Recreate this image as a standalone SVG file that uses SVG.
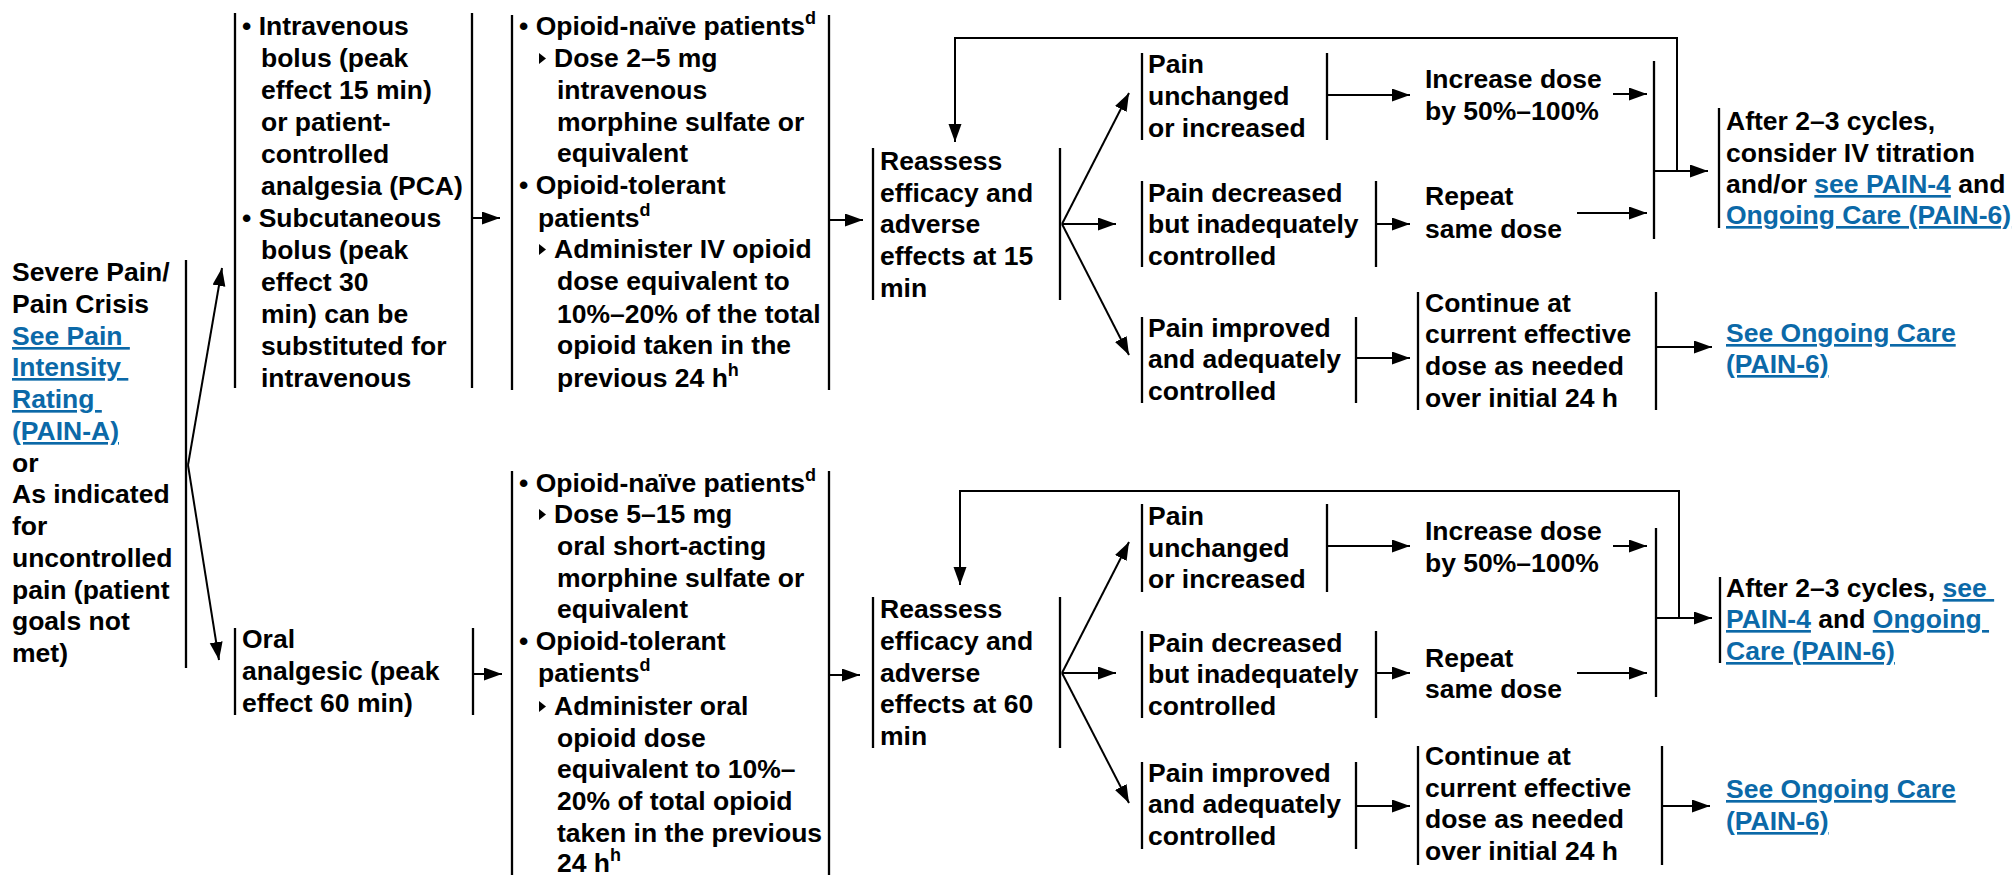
<svg xmlns="http://www.w3.org/2000/svg" width="2013" height="875" viewBox="0 0 2013 875">
<style>
text{font-family:"Liberation Sans",Arial,Helvetica,sans-serif;font-weight:bold;fill:#000;font-size:26.5px}
.lk{fill:#0b69a8;text-decoration:underline}
.sup{font-size:18px}
.bar{stroke:#000;stroke-width:2.3;fill:none}
.c{stroke:#000;stroke-width:2;fill:none;marker-end:url(#ah)}
</style>
<defs>
<marker id="ah" markerUnits="userSpaceOnUse" markerWidth="18" markerHeight="14" refX="18" refY="6.5" orient="auto">
<path d="M0,0 L18,6.5 L0,13 z" fill="#000"/>
</marker>
<polygon id="tri" points="0,-14 7,-8.5 0,-3" fill="#000"/>
</defs>

<g id="connectors">
<line class="c" x1="188" y1="465" x2="222" y2="268"/>
<line class="c" x1="188" y1="465" x2="219" y2="660"/>
<line class="c" x1="472" y1="218" x2="500" y2="218"/>
<line class="c" x1="829" y1="220" x2="863" y2="220"/>
<polyline class="c" points="1677,171 1677,38 955,38 955,142"/>
<line class="c" x1="1062" y1="224" x2="1129" y2="93"/>
<line class="c" x1="1062" y1="224" x2="1116" y2="224"/>
<line class="c" x1="1062" y1="224" x2="1129" y2="355"/>
<line class="c" x1="1327" y1="95" x2="1410" y2="95"/>
<line class="c" x1="1376" y1="224" x2="1410" y2="224"/>
<line class="c" x1="1356" y1="358" x2="1410" y2="358"/>
<line class="c" x1="1613" y1="94" x2="1647" y2="94"/>
<line class="c" x1="1577" y1="213" x2="1647" y2="213"/>
<line class="bar" x1="1654" y1="61" x2="1654" y2="239"/>
<line class="c" x1="1654" y1="171" x2="1708" y2="171"/>
<line class="c" x1="1656" y1="347" x2="1712" y2="347"/>
<line class="c" x1="473" y1="674" x2="502" y2="674"/>
<line class="c" x1="829" y1="675" x2="860" y2="675"/>
<polyline class="c" points="1679,618 1679,491 960,491 960,585"/>
<line class="c" x1="1062" y1="673" x2="1129" y2="542"/>
<line class="c" x1="1062" y1="673" x2="1116" y2="673"/>
<line class="c" x1="1062" y1="673" x2="1129" y2="803"/>
<line class="c" x1="1327" y1="546" x2="1410" y2="546"/>
<line class="c" x1="1376" y1="673" x2="1410" y2="673"/>
<line class="c" x1="1356" y1="806" x2="1410" y2="806"/>
<line class="c" x1="1613" y1="546" x2="1647" y2="546"/>
<line class="c" x1="1577" y1="673" x2="1647" y2="673"/>
<line class="bar" x1="1656" y1="528" x2="1656" y2="697"/>
<line class="c" x1="1656" y1="618" x2="1712" y2="618"/>
<line class="c" x1="1662" y1="806" x2="1710" y2="806"/>
</g>

<g id="start">
<line class="bar" x1="186" y1="260" x2="186" y2="668"/>
<text x="12" y="281">Severe Pain/</text>
<text x="12" y="313">Pain Crisis</text>
<text class="lk" x="12" y="345" xml:space="preserve">See Pain </text>
<text class="lk" x="12" y="376" xml:space="preserve">Intensity </text>
<text class="lk" x="12" y="408" xml:space="preserve">Rating </text>
<text class="lk" x="12" y="440">(PAIN-A)</text>
<text x="12" y="472">or</text>
<text x="12" y="503">As indicated</text>
<text x="12" y="535">for</text>
<text x="12" y="567">uncontrolled</text>
<text x="12" y="599">pain (patient</text>
<text x="12" y="630">goals not</text>
<text x="12" y="662">met)</text>
</g>

<g id="iv-route">
<line class="bar" x1="235" y1="13" x2="235" y2="388"/>
<line class="bar" x1="472" y1="13" x2="472" y2="388"/>
<text x="242" y="35">• Intravenous</text>
<text x="261" y="67">bolus (peak</text>
<text x="261" y="99">effect 15 min)</text>
<text x="261" y="131">or patient-</text>
<text x="261" y="163">controlled</text>
<text x="261" y="195">analgesia (PCA)</text>
<text x="242" y="227">• Subcutaneous</text>
<text x="261" y="259">bolus (peak</text>
<text x="261" y="291">effect 30</text>
<text x="261" y="323">min) can be</text>
<text x="261" y="355">substituted for</text>
<text x="261" y="387">intravenous</text>
</g>

<g id="oral-route">
<line class="bar" x1="235" y1="628" x2="235" y2="715"/>
<line class="bar" x1="473" y1="628" x2="473" y2="715"/>
<text x="242" y="648">Oral</text>
<text x="242" y="680">analgesic (peak</text>
<text x="242" y="712">effect 60 min)</text>
</g>

<g id="iv-dose">
<line class="bar" x1="512" y1="15" x2="512" y2="390"/>
<line class="bar" x1="829" y1="15" x2="829" y2="390"/>
<text x="519" y="35">• Opioid-naïve patients<tspan class="sup" dy="-11">d</tspan></text>
<use href="#tri" x="539" y="67"/>
<text x="554" y="67">Dose 2–5 mg</text>
<text x="557" y="99">intravenous</text>
<text x="557" y="131">morphine sulfate or</text>
<text x="557" y="162">equivalent</text>
<text x="519" y="194">• Opioid-tolerant</text>
<text x="538" y="227">patients<tspan class="sup" dy="-11">d</tspan></text>
<use href="#tri" x="539" y="258"/>
<text x="554" y="258">Administer IV opioid</text>
<text x="557" y="290">dose equivalent to</text>
<text x="557" y="323">10%–20% of the total</text>
<text x="557" y="354">opioid taken in the</text>
<text x="557" y="387">previous 24 h<tspan class="sup" dy="-11">h</tspan></text>
</g>

<g id="oral-dose">
<line class="bar" x1="512" y1="471" x2="512" y2="875"/>
<line class="bar" x1="829" y1="471" x2="829" y2="875"/>
<text x="519" y="492">• Opioid-naïve patients<tspan class="sup" dy="-11">d</tspan></text>
<use href="#tri" x="539" y="523"/>
<text x="554" y="523">Dose 5–15 mg</text>
<text x="557" y="555">oral short-acting</text>
<text x="557" y="587">morphine sulfate or</text>
<text x="557" y="618">equivalent</text>
<text x="519" y="650">• Opioid-tolerant</text>
<text x="538" y="682">patients<tspan class="sup" dy="-11">d</tspan></text>
<use href="#tri" x="539" y="715"/>
<text x="554" y="715">Administer oral</text>
<text x="557" y="747">opioid dose</text>
<text x="557" y="778">equivalent to 10%–</text>
<text x="557" y="810">20% of total opioid</text>
<text x="557" y="842">taken in the previous</text>
<text x="557" y="872">24 h<tspan class="sup" dy="-11">h</tspan></text>
</g>

<g id="reassess-15">
<line class="bar" x1="873" y1="148" x2="873" y2="300"/>
<line class="bar" x1="1060" y1="148" x2="1060" y2="300"/>
<text x="880" y="170">Reassess</text>
<text x="880" y="202">efficacy and</text>
<text x="880" y="233">adverse</text>
<text x="880" y="265">effects at 15</text>
<text x="880" y="297">min</text>
</g>

<g id="reassess-60">
<line class="bar" x1="873" y1="597" x2="873" y2="748"/>
<line class="bar" x1="1060" y1="597" x2="1060" y2="748"/>
<text x="880" y="618">Reassess</text>
<text x="880" y="650">efficacy and</text>
<text x="880" y="682">adverse</text>
<text x="880" y="713">effects at 60</text>
<text x="880" y="745">min</text>
</g>

<g id="unchanged-1">
<line class="bar" x1="1142" y1="53" x2="1142" y2="140"/>
<line class="bar" x1="1327" y1="53" x2="1327" y2="140"/>
<text x="1148" y="73">Pain</text>
<text x="1148" y="105">unchanged</text>
<text x="1148" y="137">or increased</text>
</g>
<g id="decreased-1">
<line class="bar" x1="1142" y1="181" x2="1142" y2="267"/>
<line class="bar" x1="1376" y1="181" x2="1376" y2="267"/>
<text x="1148" y="202">Pain decreased</text>
<text x="1148" y="233">but inadequately</text>
<text x="1148" y="265">controlled</text>
</g>
<g id="improved-1">
<line class="bar" x1="1142" y1="317" x2="1142" y2="403"/>
<line class="bar" x1="1356" y1="317" x2="1356" y2="403"/>
<text x="1148" y="337">Pain improved</text>
<text x="1148" y="368">and adequately</text>
<text x="1148" y="400">controlled</text>
</g>
<g id="increase-1">
<text x="1425" y="88">Increase dose</text>
<text x="1425" y="120">by 50%–100%</text>
</g>
<g id="repeat-1">
<text x="1425" y="205">Repeat</text>
<text x="1425" y="238">same dose</text>
</g>
<g id="continue-1">
<line class="bar" x1="1418" y1="292" x2="1418" y2="410"/>
<line class="bar" x1="1656" y1="292" x2="1656" y2="410"/>
<text x="1425" y="312">Continue at</text>
<text x="1425" y="343">current effective</text>
<text x="1425" y="375">dose as needed</text>
<text x="1425" y="407">over initial 24 h</text>
</g>
<g id="after-1">
<line class="bar" x1="1719" y1="108" x2="1719" y2="228"/>
<text x="1726" y="130">After 2–3 cycles,</text>
<text x="1726" y="162">consider IV titration</text>
<text x="1726" y="193">and/or <tspan class="lk">see PAIN-4</tspan> and</text>
<text class="lk" x="1726" y="224">Ongoing Care (PAIN-6)</text>
</g>
<g id="ongoing-1">
<text class="lk" x="1726" y="342">See Ongoing Care</text>
<text class="lk" x="1726" y="373">(PAIN-6)</text>
</g>

<g id="unchanged-2">
<line class="bar" x1="1142" y1="504" x2="1142" y2="592"/>
<line class="bar" x1="1327" y1="504" x2="1327" y2="592"/>
<text x="1148" y="525">Pain</text>
<text x="1148" y="557">unchanged</text>
<text x="1148" y="588">or increased</text>
</g>
<g id="decreased-2">
<line class="bar" x1="1142" y1="631" x2="1142" y2="718"/>
<line class="bar" x1="1376" y1="631" x2="1376" y2="718"/>
<text x="1148" y="652">Pain decreased</text>
<text x="1148" y="683">but inadequately</text>
<text x="1148" y="715">controlled</text>
</g>
<g id="improved-2">
<line class="bar" x1="1142" y1="762" x2="1142" y2="849"/>
<line class="bar" x1="1356" y1="762" x2="1356" y2="849"/>
<text x="1148" y="782">Pain improved</text>
<text x="1148" y="813">and adequately</text>
<text x="1148" y="845">controlled</text>
</g>
<g id="increase-2">
<text x="1425" y="540">Increase dose</text>
<text x="1425" y="572">by 50%–100%</text>
</g>
<g id="repeat-2">
<text x="1425" y="667">Repeat</text>
<text x="1425" y="698">same dose</text>
</g>
<g id="continue-2">
<line class="bar" x1="1418" y1="746" x2="1418" y2="865"/>
<line class="bar" x1="1662" y1="746" x2="1662" y2="865"/>
<text x="1425" y="765">Continue at</text>
<text x="1425" y="797">current effective</text>
<text x="1425" y="828">dose as needed</text>
<text x="1425" y="860">over initial 24 h</text>
</g>
<g id="after-2">
<line class="bar" x1="1720" y1="577" x2="1720" y2="663"/>
<text x="1726" y="597" xml:space="preserve">After 2–3 cycles, <tspan class="lk">see </tspan></text>
<text x="1726" y="628" xml:space="preserve"><tspan class="lk">PAIN-4</tspan> and <tspan class="lk">Ongoing </tspan></text>
<text class="lk" x="1726" y="660">Care (PAIN-6)</text>
</g>
<g id="ongoing-2">
<text class="lk" x="1726" y="798">See Ongoing Care</text>
<text class="lk" x="1726" y="830">(PAIN-6)</text>
</g>
</svg>
